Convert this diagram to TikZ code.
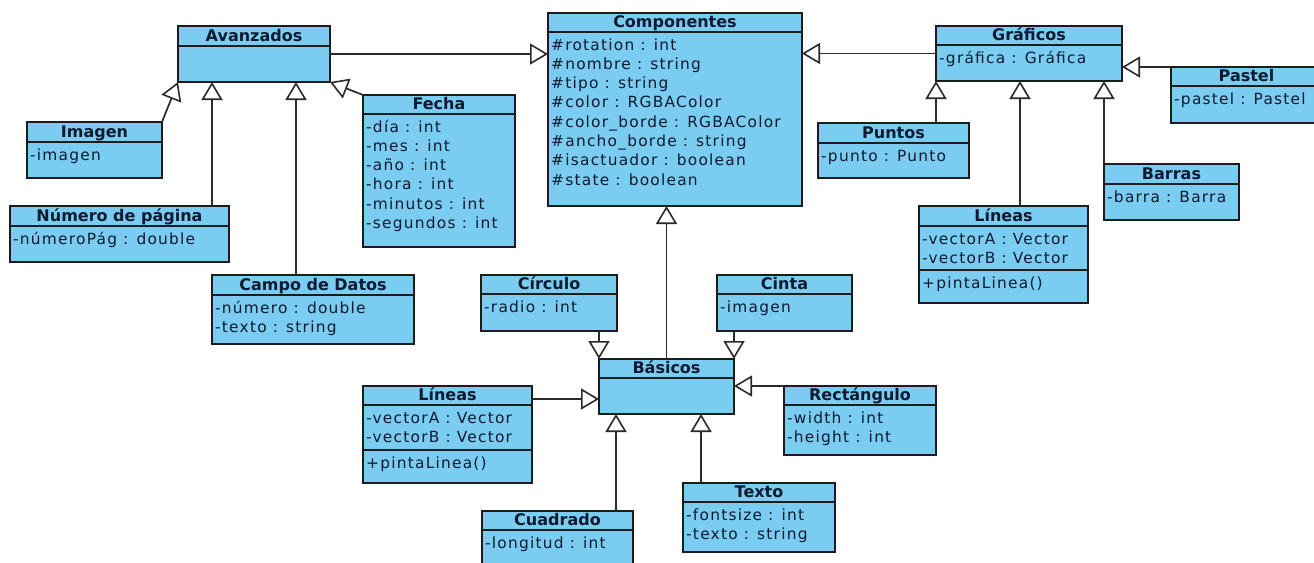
\documentclass[tikz,border=0pt]{standalone}
\usepackage{fontspec}
\usetikzlibrary{arrows.meta,calc}
\newfontfamily\attrfont[LetterSpace=8]{DejaVu Sans}
\newfontfamily\hdrfont{DejaVu Sans}
\definecolor{classfill}{HTML}{7ACCF0}
\definecolor{classline}{HTML}{1C1C1C}
\definecolor{classtext}{HTML}{0E1A30}
\definecolor{wireline}{HTML}{2A2A2A}

\tikzset{
  clsbox/.style={draw=classline, fill=classfill, line width=1.7pt, inner sep=0pt, outer sep=0pt},
  sepline/.style={draw=classline, line width=1.5pt},
  hdr/.style={anchor=base, font=\hdrfont\bfseries\fontsize{16}{17}\selectfont, text=classtext, inner sep=0pt},
  attrtxt/.style={anchor=base west, font=\attrfont\fontsize{15.4}{16}\selectfont, text=classtext, inner sep=0pt},
  gen/.style={draw=wireline, line width=1.7pt,
    -{Triangle[length=18pt,width=21pt,fill=white,line width=1.6pt]}},
}

% class box: id, left, top, right, bottom, header line, title
\newcommand\umlclass[7]{%
  \node[clsbox, anchor=north west, minimum width={(#4-#2)*1pt},
        minimum height={(#5-#3)*1pt}] (#1) at (#2,#3) {};
  \draw[sepline] (#2,#6) -- (#4,#6);
  \node[hdr] (#1-name) at ({(#2+#4)/2},{#6-4.2}) {#7};
}
% attribute rows: id, left, line above the rows, list
\newcommand\umlattrs[4]{%
  \foreach \t [count=\i] in {#4} {
    \node[attrtxt] (#1-a\i) at ({#2+3},{#3+18+(\i-1)*19.3}) {\t};
  }
}
% operation compartment: id, left, right, line above, text
\newcommand\umlops[5]{%
  \draw[sepline] (#2,#4) -- (#3,#4);
  \node[attrtxt] (#1-op) at ({#2+3},{#4+18}) {#5};
}

\begin{document}
\begin{tikzpicture}[x=1pt,y=-1pt]
\useasboundingbox (0,0) rectangle (1314,562);
\fill[white] (0,0) rectangle (1314,562);

% ---- classes ----
\umlclass{comp}{548}{13}{802}{206}{32}{Componentes}
\umlattrs{comp}{548}{32}{\#rotation : int, \#nombre : string, \#tipo : string, \#color : RGBAColor, \#color\_borde : RGBAColor, \#ancho\_borde : string, \#isactuador : boolean, \#state : boolean}

\umlclass{avz}{178}{26}{330}{82}{46}{Avanzados}

\umlclass{imagen}{27}{122}{162}{178}{142}{Imagen}
\umlattrs{imagen}{27}{142}{-imagen}

\umlclass{numpag}{10}{206}{229}{262}{226}{Número de página}
\umlattrs{numpag}{10}{226}{-númeroPág : double}

\umlclass{campo}{212}{275}{414}{344}{295}{Campo de Datos}
\umlattrs{campo}{212}{295}{-número : double, -texto : string}

\umlclass{fecha}{363}{95}{515}{247}{114}{Fecha}
\umlattrs{fecha}{363}{114}{-día : int, -mes : int, -año : int, -hora : int, -minutos : int, -segundos : int}

\umlclass{graf}{936}{26}{1122}{81}{45}{Gráficos}
\umlattrs{graf}{936}{45}{-gráfica : Gráfica}

\umlclass{pastel}{1171}{67}{1322}{123}{86}{Pastel}
\umlattrs{pastel}{1171}{86}{-pastel : Pastel}

\umlclass{puntos}{818}{123}{969}{178}{143}{Puntos}
\umlattrs{puntos}{818}{143}{-punto : Punto}

\umlclass{barras}{1104}{164}{1239}{220}{184}{Barras}
\umlattrs{barras}{1104}{184}{-barra : Barra}

\umlclass{linR}{919}{206}{1088}{303}{226}{Líneas}
\umlattrs{linR}{919}{226}{-vectorA : Vector, -vectorB : Vector}
\umlops{linR}{919}{1088}{270}{+pintaLinea()}

\umlclass{circ}{481}{275}{617}{331}{294}{Círculo}
\umlattrs{circ}{481}{294}{-radio : int}

\umlclass{cinta}{717}{275}{852}{331}{294}{Cinta}
\umlattrs{cinta}{717}{294}{-imagen}

\umlclass{bas}{599}{359}{734}{414}{378}{Básicos}

\umlclass{linL}{363}{386}{532}{483}{405}{Líneas}
\umlattrs{linL}{363}{405}{-vectorA : Vector, -vectorB : Vector}
\umlops{linL}{363}{532}{450}{+pintaLinea()}

\umlclass{rect}{784}{386}{936}{455}{405}{Rectángulo}
\umlattrs{rect}{784}{405}{-width : int, -height : int}

\umlclass{texto}{683}{483}{835}{552}{502}{Texto}
\umlattrs{texto}{683}{502}{-fontsize : int, -texto : string}

\umlclass{cuad}{482}{511}{633}{564}{530}{Cuadrado}
\umlattrs{cuad}{482}{530}{-longitud : int}

% ---- generalisations ----
\coordinate (np-up) at ($(numpag.north west)+(202,0)$);
\coordinate (cd-up) at ($(campo.north west)+(84,0)$);
\coordinate (lr-up) at ($(linR.north west)+(101,0)$);
\coordinate (cu-up) at ($(cuad.north west)+(134,0)$);
\coordinate (tx-up) at ($(texto.north west)+(18,0)$);
\coordinate (ll-out) at ($(linL.north east)+(0,13)$);

\draw[gen] (avz.east) -- (avz.east -| comp.west);
\draw[gen] (graf.west) -- (graf.west -| comp.east);
\draw[gen] (pastel.north west) -- (pastel.north west -| graf.east);
\draw[gen] (puntos.north -| graf.south west) -- (graf.south west);
\draw[gen] (lr-up) -- (lr-up |- graf.south);
\draw[gen] (barras.north west) -- (barras.north west |- graf.south);

\draw[gen] (imagen.north east) -- (avz.south west);
\draw[gen] (np-up) -- (np-up |- avz.south);
\draw[gen] (cd-up) -- (cd-up |- avz.south);
\draw[gen] (fecha.north west) -- (avz.south east);

\draw[gen] (bas.north) -- (bas.north |- comp.south);
\draw[gen] (circ.south -| bas.north west) -- (bas.north west);
\draw[gen] (cinta.south -| bas.north east) -- (bas.north east);
\draw[gen] (ll-out) -- (ll-out -| bas.west);
\draw[gen] (rect.north west) -- (rect.north west -| bas.east);
\draw[gen] (cu-up) -- (cu-up |- bas.south);
\draw[gen] (tx-up) -- (tx-up |- bas.south);
\end{tikzpicture}
\end{document}
